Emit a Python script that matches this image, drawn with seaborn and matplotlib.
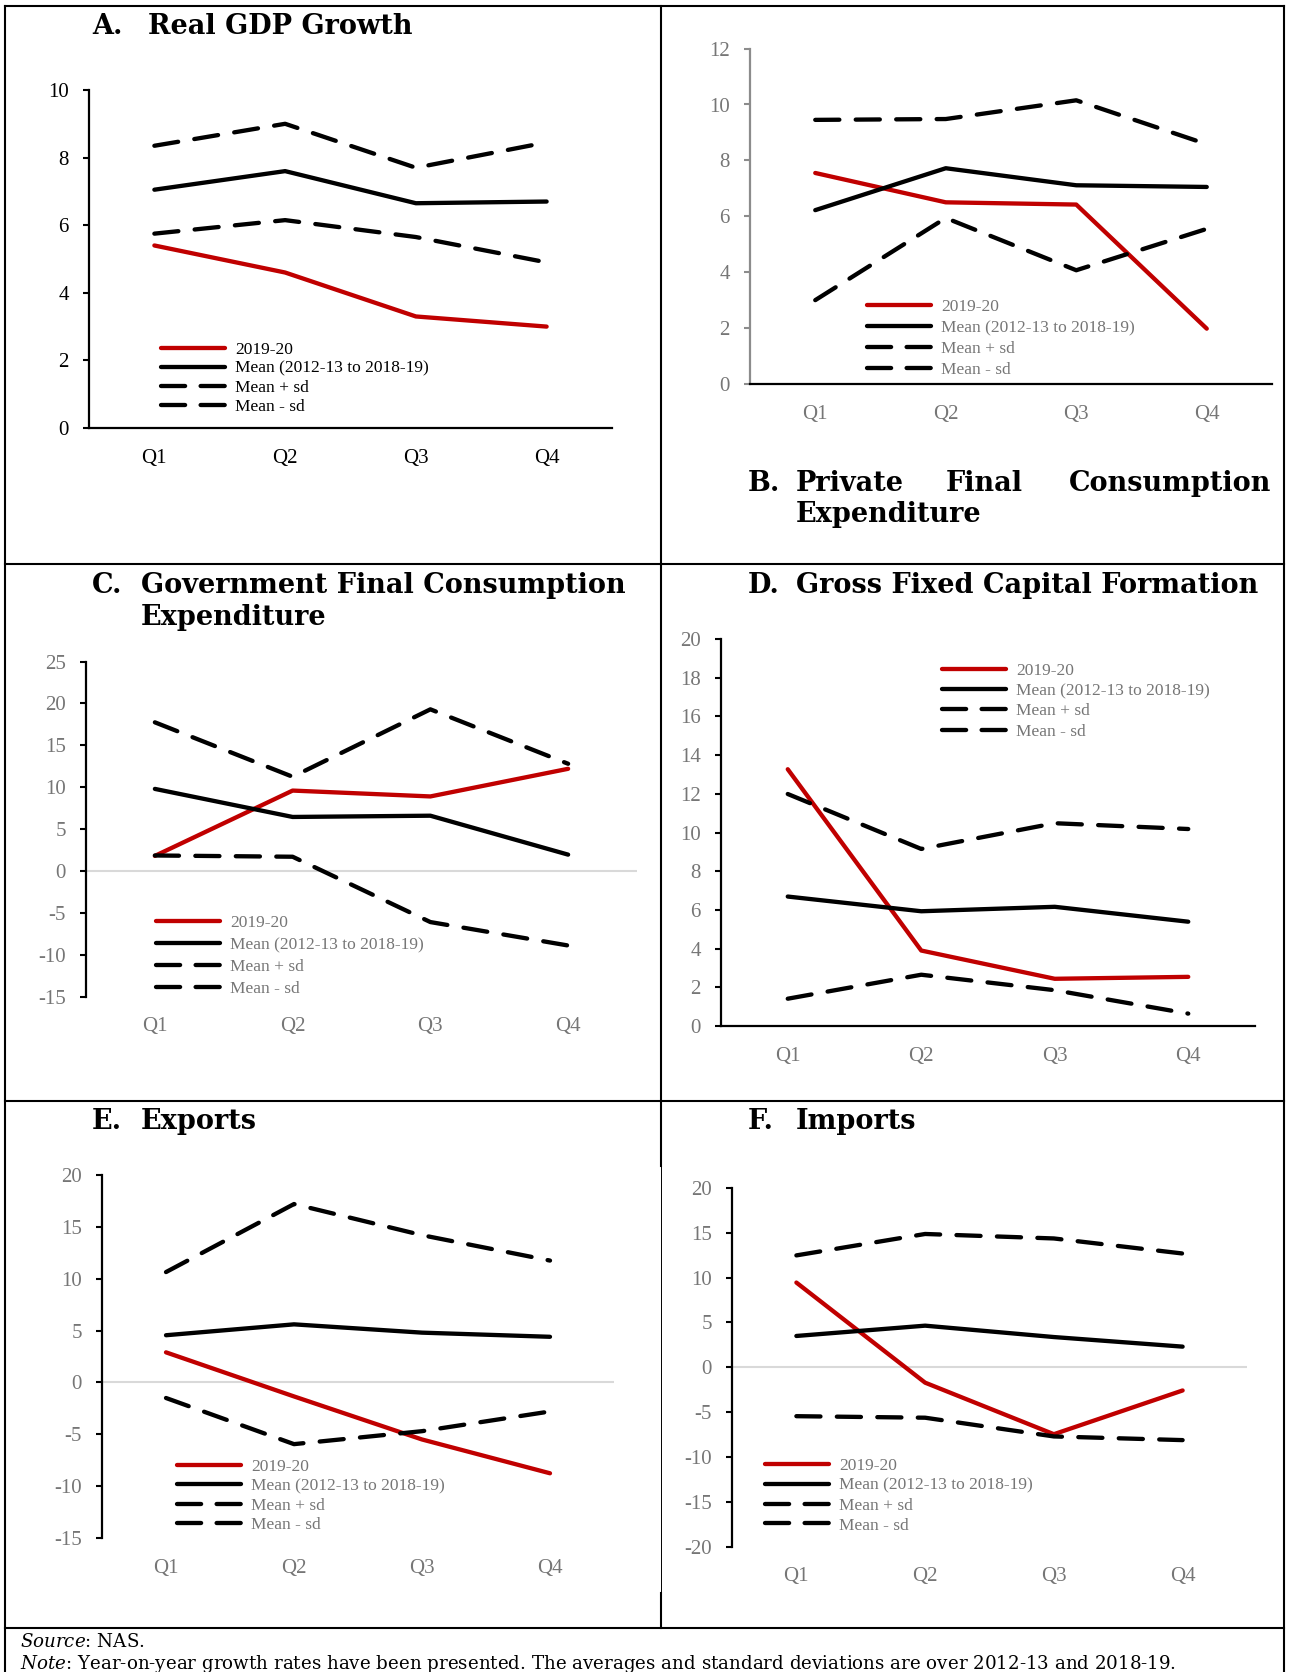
import numpy as np
import pandas as pd
import matplotlib
matplotlib.use("Agg")
import matplotlib.pyplot as plt
import seaborn as sns
from matplotlib.lines import Line2D

# ---------------------------------------------------------------- data
quarters = ["Q1", "Q2", "Q3", "Q4"]
series_labels = ["2019-20", "Mean (2012-13 to 2018-19)", "Mean + sd", "Mean - sd"]

gdp_2019 = [5.4, 4.6, 3.3, 3.0]
gdp_mean = [7.05, 7.6, 6.65, 6.7]
gdp_plus = [8.35, 9.0, 7.7, 8.45]
gdp_minus = [5.75, 6.15, 5.65, 4.9]

pfce_2019 = [7.55, 6.5, 6.42, 1.98]
pfce_mean = [6.22, 7.72, 7.11, 7.05]
pfce_plus = [9.45, 9.48, 10.15, 8.58]
pfce_minus = [3.0, 5.94, 4.07, 5.55]

gfce_2019 = [1.8, 9.6, 8.9, 12.2]
gfce_mean = [9.8, 6.45, 6.6, 1.95]
gfce_plus = [17.75, 11.25, 19.3, 12.8]
gfce_minus = [1.85, 1.7, -6.1, -8.9]

gfcf_2019 = [13.27, 3.9, 2.44, 2.54]
gfcf_mean = [6.69, 5.93, 6.16, 5.39]
gfcf_plus = [11.99, 9.15, 10.48, 10.18]
gfcf_minus = [1.41, 2.65, 1.85, 0.64]

exports_2019 = [2.9, -1.35, -5.5, -8.76]
exports_mean = [4.55, 5.6, 4.8, 4.4]
exports_plus = [10.64, 17.2, 14.2, 11.75]
exports_minus = [-1.5, -5.95, -4.7, -2.8]

imports_2019 = [9.45, -1.72, -7.47, -2.59]
imports_mean = [3.49, 4.64, 3.37, 2.3]
imports_plus = [12.48, 14.87, 14.37, 12.69]
imports_minus = [-5.46, -5.63, -7.72, -8.13]

# ---------------------------------------------------------------- style
sns.set_theme(style="white")
plt.rcParams["font.family"] = ["Liberation Serif", "DejaVu Serif"]
plt.rcParams["axes.unicode_minus"] = False
plt.rcParams["mathtext.fontset"] = "custom"
plt.rcParams["mathtext.rm"] = "DejaVu Serif"
plt.rcParams["mathtext.it"] = "DejaVu Serif:italic"

W, H, DPI = 1290, 1672, 100
fig = plt.figure(figsize=(W / DPI, H / DPI), dpi=DPI)
fig.patch.set_facecolor("white")

RED = "#C00000"
GRAY_TXT = "#767676"
LW = 3.1
DASH = (5.6, 3.8)
LEG_DASH = (5.6, 3.6)
TITLE_FS = 19.5
TICK_FS = 15
LEG_FS = 12.5


def fx(x):
    return x / W


def fy(y):
    return 1 - y / H


def panel(box, values, ylim, step, legend_at, labelspacing,
          dark=False, zero_line=False, yaxis_color="black"):
    x0, x1, ytop, ybot = box
    ax = fig.add_axes([fx(x0), fy(ybot), (x1 - x0) / W, (ybot - ytop) / H])
    ax.set_facecolor("none")

    if zero_line:
        ax.axhline(0, color="#D9D9D9", lw=1.5, zorder=1)

    colors = [RED, "black", "black", "black"]
    for i, (vals, col, lab) in enumerate(zip(values, colors, series_labels)):
        sns.lineplot(x=quarters, y=vals, ax=ax, color=col, lw=LW,
                     label=lab, sort=False, zorder=3 + i)
        ln = ax.lines[-1]
        ln.set_solid_capstyle("round")
        ln.set_dash_capstyle("round")
        ln.set_solid_joinstyle("round")
        ln.set_dash_joinstyle("round")
        if i >= 2:
            ln.set_dashes(DASH)

    ax.set_xlim(-0.5, 3.5)
    ax.set_ylim(*ylim)
    ax.set_yticks(np.arange(ylim[0], ylim[1] + step / 2, step))
    ax.set_xlabel("")
    ax.set_ylabel("")

    txt_col = "black" if dark else GRAY_TXT
    for s in ("top", "right"):
        ax.spines[s].set_visible(False)
    ax.spines["left"].set_color(yaxis_color)
    ax.spines["left"].set_linewidth(1.6)
    if zero_line:
        ax.spines["bottom"].set_visible(False)
    else:
        ax.spines["bottom"].set_color("black")
        ax.spines["bottom"].set_linewidth(1.6)

    ax.tick_params(axis="y", direction="out", length=4.5, width=1.5,
                   color=yaxis_color, pad=10, labelsize=TICK_FS,
                   labelcolor=txt_col, left=True)
    ax.tick_params(axis="x", length=0, pad=15, labelsize=TICK_FS,
                   labelcolor=txt_col, bottom=True)

    hx, hy = legend_at
    handles = ax.lines[-4:]
    leg = ax.legend(handles=handles, labels=series_labels, loc="upper left",
                    bbox_to_anchor=(fx(hx), fy(hy - 5.5)),
                    bbox_transform=fig.transFigure, frameon=False,
                    fontsize=LEG_FS, handlelength=3.7, handletextpad=0.55,
                    labelspacing=labelspacing, borderpad=0, borderaxespad=0)
    for t in leg.get_texts():
        t.set_color(txt_col)
    for j, ln in enumerate(leg.get_lines()):
        ln.set_linewidth(LW)
        ln.set_solid_capstyle("round")
        ln.set_dash_capstyle("round")
        if j >= 2:
            ln.set_dashes(LEG_DASH)
    return ax


# A. Real GDP growth
panel((89, 612, 90, 428), [gdp_2019, gdp_mean, gdp_plus, gdp_minus],
      (0, 10), 2, (161, 347), 0.17, dark=True)
# B. Private final consumption expenditure
panel((750, 1272, 48.6, 384), [pfce_2019, pfce_mean, pfce_plus, pfce_minus],
      (0, 12), 2, (867, 304.5), 0.28, yaxis_color="#8C8C8C")
# C. Government final consumption expenditure
panel((86, 637, 661.6, 996.6), [gfce_2019, gfce_mean, gfce_plus, gfce_minus],
      (-15, 25), 5, (156, 920.5), 0.33, zero_line=True)
# D. Gross fixed capital formation
panel((721, 1255, 639, 1026), [gfcf_2019, gfcf_mean, gfcf_plus, gfcf_minus],
      (0, 20), 2, (942, 668.5), 0.23)
# E. Exports
panel((102, 614, 1175, 1538), [exports_2019, exports_mean, exports_plus, exports_minus],
      (-15, 20), 5, (177, 1464.8), 0.17, zero_line=True)
# F. Imports
panel((732, 1247, 1188, 1546.5), [imports_2019, imports_mean, imports_plus, imports_minus],
      (-20, 20), 5, (765, 1463), 0.22, zero_line=True)

# ---------------------------------------------------------------- titles
tkw = dict(fontfamily="DejaVu Serif", fontweight="bold", fontsize=TITLE_FS,
           va="baseline", color="black")


def heading(x, y, s, ha="left"):
    fig.text(fx(x), fy(y), s, ha=ha, **tkw)


heading(92, 34, "A.")
heading(148, 34, "Real GDP Growth")

heading(748, 491, "B.")
heading(796, 491, "Private")
heading(946, 491, "Final")
heading(1271, 491, "Consumption", ha="right")
heading(796, 522.5, "Expenditure")

heading(92, 592.7, "C.")
heading(141, 592.7, "Government Final Consumption")
heading(141, 624.7, "Expenditure")

heading(748, 592.7, "D.")
heading(796, 592.7, "Gross Fixed Capital Formation")

heading(92, 1129, "E.")
heading(141, 1129, "Exports")

heading(748, 1129, "F.")
heading(796, 1129, "Imports")

# ---------------------------------------------------------------- table rules


def rule(x0, y0, x1, y1, lw=1.5):
    fig.add_artist(Line2D([fx(x0), fx(x1)], [fy(y0), fy(y1)],
                          transform=fig.transFigure, color="black", lw=lw,
                          solid_capstyle="projecting"))


rule(5, 5.5, 1284, 5.5)
rule(5, 563.7, 1284, 563.7)
rule(5, 1101, 1284, 1101)
rule(5, 1628, 1284, 1628)
rule(5, 5.5, 5, 1672)
rule(1284, 5.5, 1284, 1672)
rule(661, 5.5, 661, 1166)
rule(661, 1166, 661, 1593, lw=0.7)
rule(661, 1593, 661, 1628)

# ---------------------------------------------------------------- notes
fkw = dict(fontfamily="DejaVu Serif", fontsize=13.15, color="black",
           va="center", ha="left")
fig.text(fx(20), fy(1642), r"$\mathit{Source}$: NAS.", **fkw)
fig.text(fx(20), fy(1664),
         r"$\mathit{Note}$: Year-on-year growth rates have been presented. "
         "The averages and standard deviations are over 2012-13 and 2018-19.",
         **fkw)

fig.savefig("out.png", dpi=DPI, facecolor="white")
